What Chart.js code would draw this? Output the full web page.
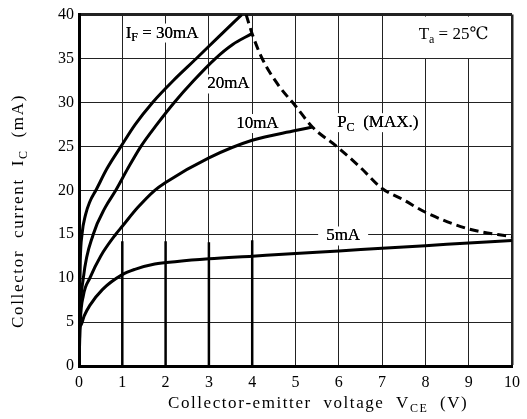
<!DOCTYPE html>
<html>
<head>
<meta charset="utf-8">
<script src="https://cdn.jsdelivr.net/npm/chart.js@4/dist/chart.umd.min.js"></script>
<style>
  html, body { margin: 0; padding: 0; background: #fff; }
  #wrap { width: 527px; height: 419px; }
</style>
</head>
<body>
<div id="wrap"><canvas id="chart"></canvas></div>
<script>
// V_CE (V) vs I_C (mA)
const if30V = [0, 0.01, 0.03, 0.07, 0.15, 0.25, 0.39, 0.65, 0.97, 1.3, 1.7, 2.18, 2.71, 3.23, 3.76]
const if30I = [0, 6, 12, 15, 17.2, 18.7, 20, 22.5, 25, 27.5, 30, 32.5, 35, 37.5, 40]

const if20V = [0, 0.02, 0.1, 0.33, 0.6, 0.85, 1.13, 1.43, 1.8, 2.2, 2.65, 3.15, 3.55, 3.98]
const if20I = [0, 5, 10, 15, 18, 20, 22.5, 25, 27.5, 30, 32.5, 35, 36.6, 37.8]

const if10V = [0, 0.03, 0.1, 0.25, 0.5, 0.85, 1.0, 1.35, 1.75, 2, 3, 4, 5, 5.39]
const if10I = [0, 5, 8, 10, 12.5, 15, 15.9, 18, 20, 20.9, 23.7, 25.7, 26.8, 27.2]

const if5V = [0, 0.003, 0.04, 0.12, 0.25, 0.54, 1.0, 1.29, 1.75, 2.27, 3, 4, 5, 6, 7, 8, 9, 10]
const if5I = [0, 3.5, 4.6, 5.7, 6.9, 8.7, 10.4, 11, 11.6, 11.9, 12.2, 12.5, 12.8, 13.1, 13.4, 13.7, 14, 14.3]

// P_C (MAX.) limit
const pcV = [3.86, 4, 4.23, 4.6, 5.0, 5.39, 5.95, 6.5, 7, 7.5, 8, 9, 10]
const pcI = [40, 37.8, 35, 32, 29.6, 27.2, 25, 22.6, 20.2, 18.9, 17.5, 15.6, 14.7]

// heavy short rulings near the bottom of the printed grid
const stubV = [1, 2, 3, 4]
const stubTop = [14.2, 14.2, 14.1, 14.3]

const xTicks = [0, 1, 2, 3, 4, 5, 6, 7, 8, 9, 10]
const yTicks = [0, 5, 10, 15, 20, 25, 30, 35, 40]

const FONT = "'Liberation Serif', 'DejaVu Serif', serif"

function pts(xs, ys) {
  return xs.map((x, i) => ({ x: x, y: ys[i] }))
}

const stubData = []
stubV.forEach((v, i) => {
  stubData.push({ x: v, y: 0 }, { x: v, y: stubTop[i] }, { x: v, y: null })
})

function curve(data, extra) {
  return Object.assign({
    data: data,
    showLine: true,
    borderColor: '#000',
    borderWidth: 3,
    pointRadius: 0,
    cubicInterpolationMode: 'monotone',
    fill: false
  }, extra || {})
}

// text pieces like [['I', 0], ['F', 1], [' = 30mA', 0]], 1 = subscript
// drawn char by char so a title can be spread out to a given width
function drawParts(ctx, parts, cx, cy, size, bg, width) {
  const subSize = Math.round(size * 0.72)
  let w = 0, n = 0
  parts.forEach(p => {
    ctx.font = (p[1] ? subSize : size) + 'px ' + FONT
    w += ctx.measureText(p[0]).width
    n += p[0].length
  })
  const gap = width ? (width - w) / n : 0
  const total = w + gap * n
  let x = cx - total / 2
  if (bg) {
    ctx.fillStyle = '#fff'
    ctx.fillRect(x - bg[0], cy - size / 2 - bg[1], total + 2 * bg[0], size + 2 * bg[1])
  }
  ctx.fillStyle = '#000'
  ctx.textBaseline = 'middle'
  ctx.textAlign = 'left'
  parts.forEach(p => {
    ctx.font = (p[1] ? subSize : size) + 'px ' + FONT
    const yy = p[1] ? cy + size * 0.28 : cy
    if (!gap) {
      ctx.fillText(p[0], x, yy)
      x += ctx.measureText(p[0]).width
    } else {
      for (const ch of p[0]) {
        ctx.fillText(ch, x, yy)
        x += ctx.measureText(ch).width + gap
      }
    }
  })
}

const labels = [
  { v: 1.92, i: 37.9, parts: [['I', 0], ['F', 1], [' = 30mA', 0]], bg: [2, 1] },
  { v: 3.45, i: 32.1, parts: [['20mA', 0]], bg: [2, 1] },
  { v: 4.12, i: 27.6, parts: [['10mA', 0]], bg: [2, 1] },
  { v: 6.9, i: 27.7, parts: [['P', 0], ['C', 1], ['  (MAX.)', 0]], bg: [3, 1] },
  { v: 6.1, i: 14.8, parts: [['5mA', 0]], bg: [8, 1] },
  { v: 8.65, i: 37.7, parts: [['T', 0], ['a', 1], [' = 25\u2103', 0]], bg: null }
]

const textPlugin = {
  id: 'texts',
  beforeDatasetsDraw(chart) {
    const { ctx, scales: { x, y } } = chart
    ctx.save()
    // the Ta note sits in a blank box over the top-right cells
    ctx.fillStyle = '#fff'
    ctx.fillRect(x.getPixelForValue(7.15), y.getPixelForValue(40) + 2, x.getPixelForValue(10) - x.getPixelForValue(7.15) - 2, y.getPixelForValue(35) - y.getPixelForValue(40) - 2.5)
    labels.forEach(l => {
      if (l.bg) {
        drawParts(ctx, l.parts, x.getPixelForValue(l.v), y.getPixelForValue(l.i), 17, l.bg)
      }
    })
    ctx.restore()
  },
  afterDatasetsDraw(chart) {
    const { ctx, scales: { x, y } } = chart
    ctx.save()
    labels.forEach(l => {
      drawParts(ctx, l.parts, x.getPixelForValue(l.v), y.getPixelForValue(l.i), 17, null)
    })
    // axis titles
    drawParts(ctx, [['Collector-emitter  voltage  V', 0], ['CE', 1], ['  (V)', 0]], 318, 404, 17, null, 300)
    ctx.translate(19, 211)
    ctx.rotate(-Math.PI / 2)
    drawParts(ctx, [['Collector  current  I', 0], ['C', 1], ['  (mA)', 0]], 0, 0, 17, null, 234)
    ctx.restore()
  }
}

new Chart(document.querySelector('#chart'), {
  type: 'scatter',
  data: {
    datasets: [
      curve(pts(if30V, if30I)),
      curve(pts(if20V, if20I)),
      curve(pts(if10V, if10I)),
      curve(pts(if5V, if5I)),
      curve(pts(pcV, pcI), { borderDash: [9, 5], borderWidth: 3 }),
      curve(stubData, { borderWidth: 2.5, cubicInterpolationMode: 'default', tension: 0, spanGaps: false })
    ]
  },
  options: {
    responsive: true,
    maintainAspectRatio: false,
    animation: false,
    layout: { padding: { top: 10, right: 6, left: 0, bottom: 0 } },
    plugins: {
      legend: { display: false },
      tooltip: { enabled: false }
    },
    scales: {
      x: {
        type: 'linear',
        min: 0,
        max: 10,
        afterFit: s => { s.height = 53 },
        afterBuildTicks: s => { s.ticks = xTicks.map(v => ({ value: v })) },
        ticks: {
          color: '#000',
          padding: 7,
          font: { family: FONT, size: 16 }
        },
        grid: {
          drawTicks: false,
          color: '#222',
          lineWidth: c => (c.tick && c.tick.value === 10 ? 2.5 : 1)
        },
        border: { display: true, color: '#000', width: 3 }
      },
      y: {
        min: 0,
        max: 40,
        afterFit: s => { s.width = 79 },
        afterBuildTicks: s => { s.ticks = yTicks.map(v => ({ value: v })) },
        ticks: {
          color: '#000',
          padding: 5,
          font: { family: FONT, size: 16 }
        },
        grid: {
          drawTicks: false,
          color: '#222',
          lineWidth: c => (c.tick && c.tick.value === 40 ? 3 : 1)
        },
        border: { display: true, color: '#000', width: 3 }
      }
    }
  },
  plugins: [textPlugin]
})
</script>
</body>
</html>
